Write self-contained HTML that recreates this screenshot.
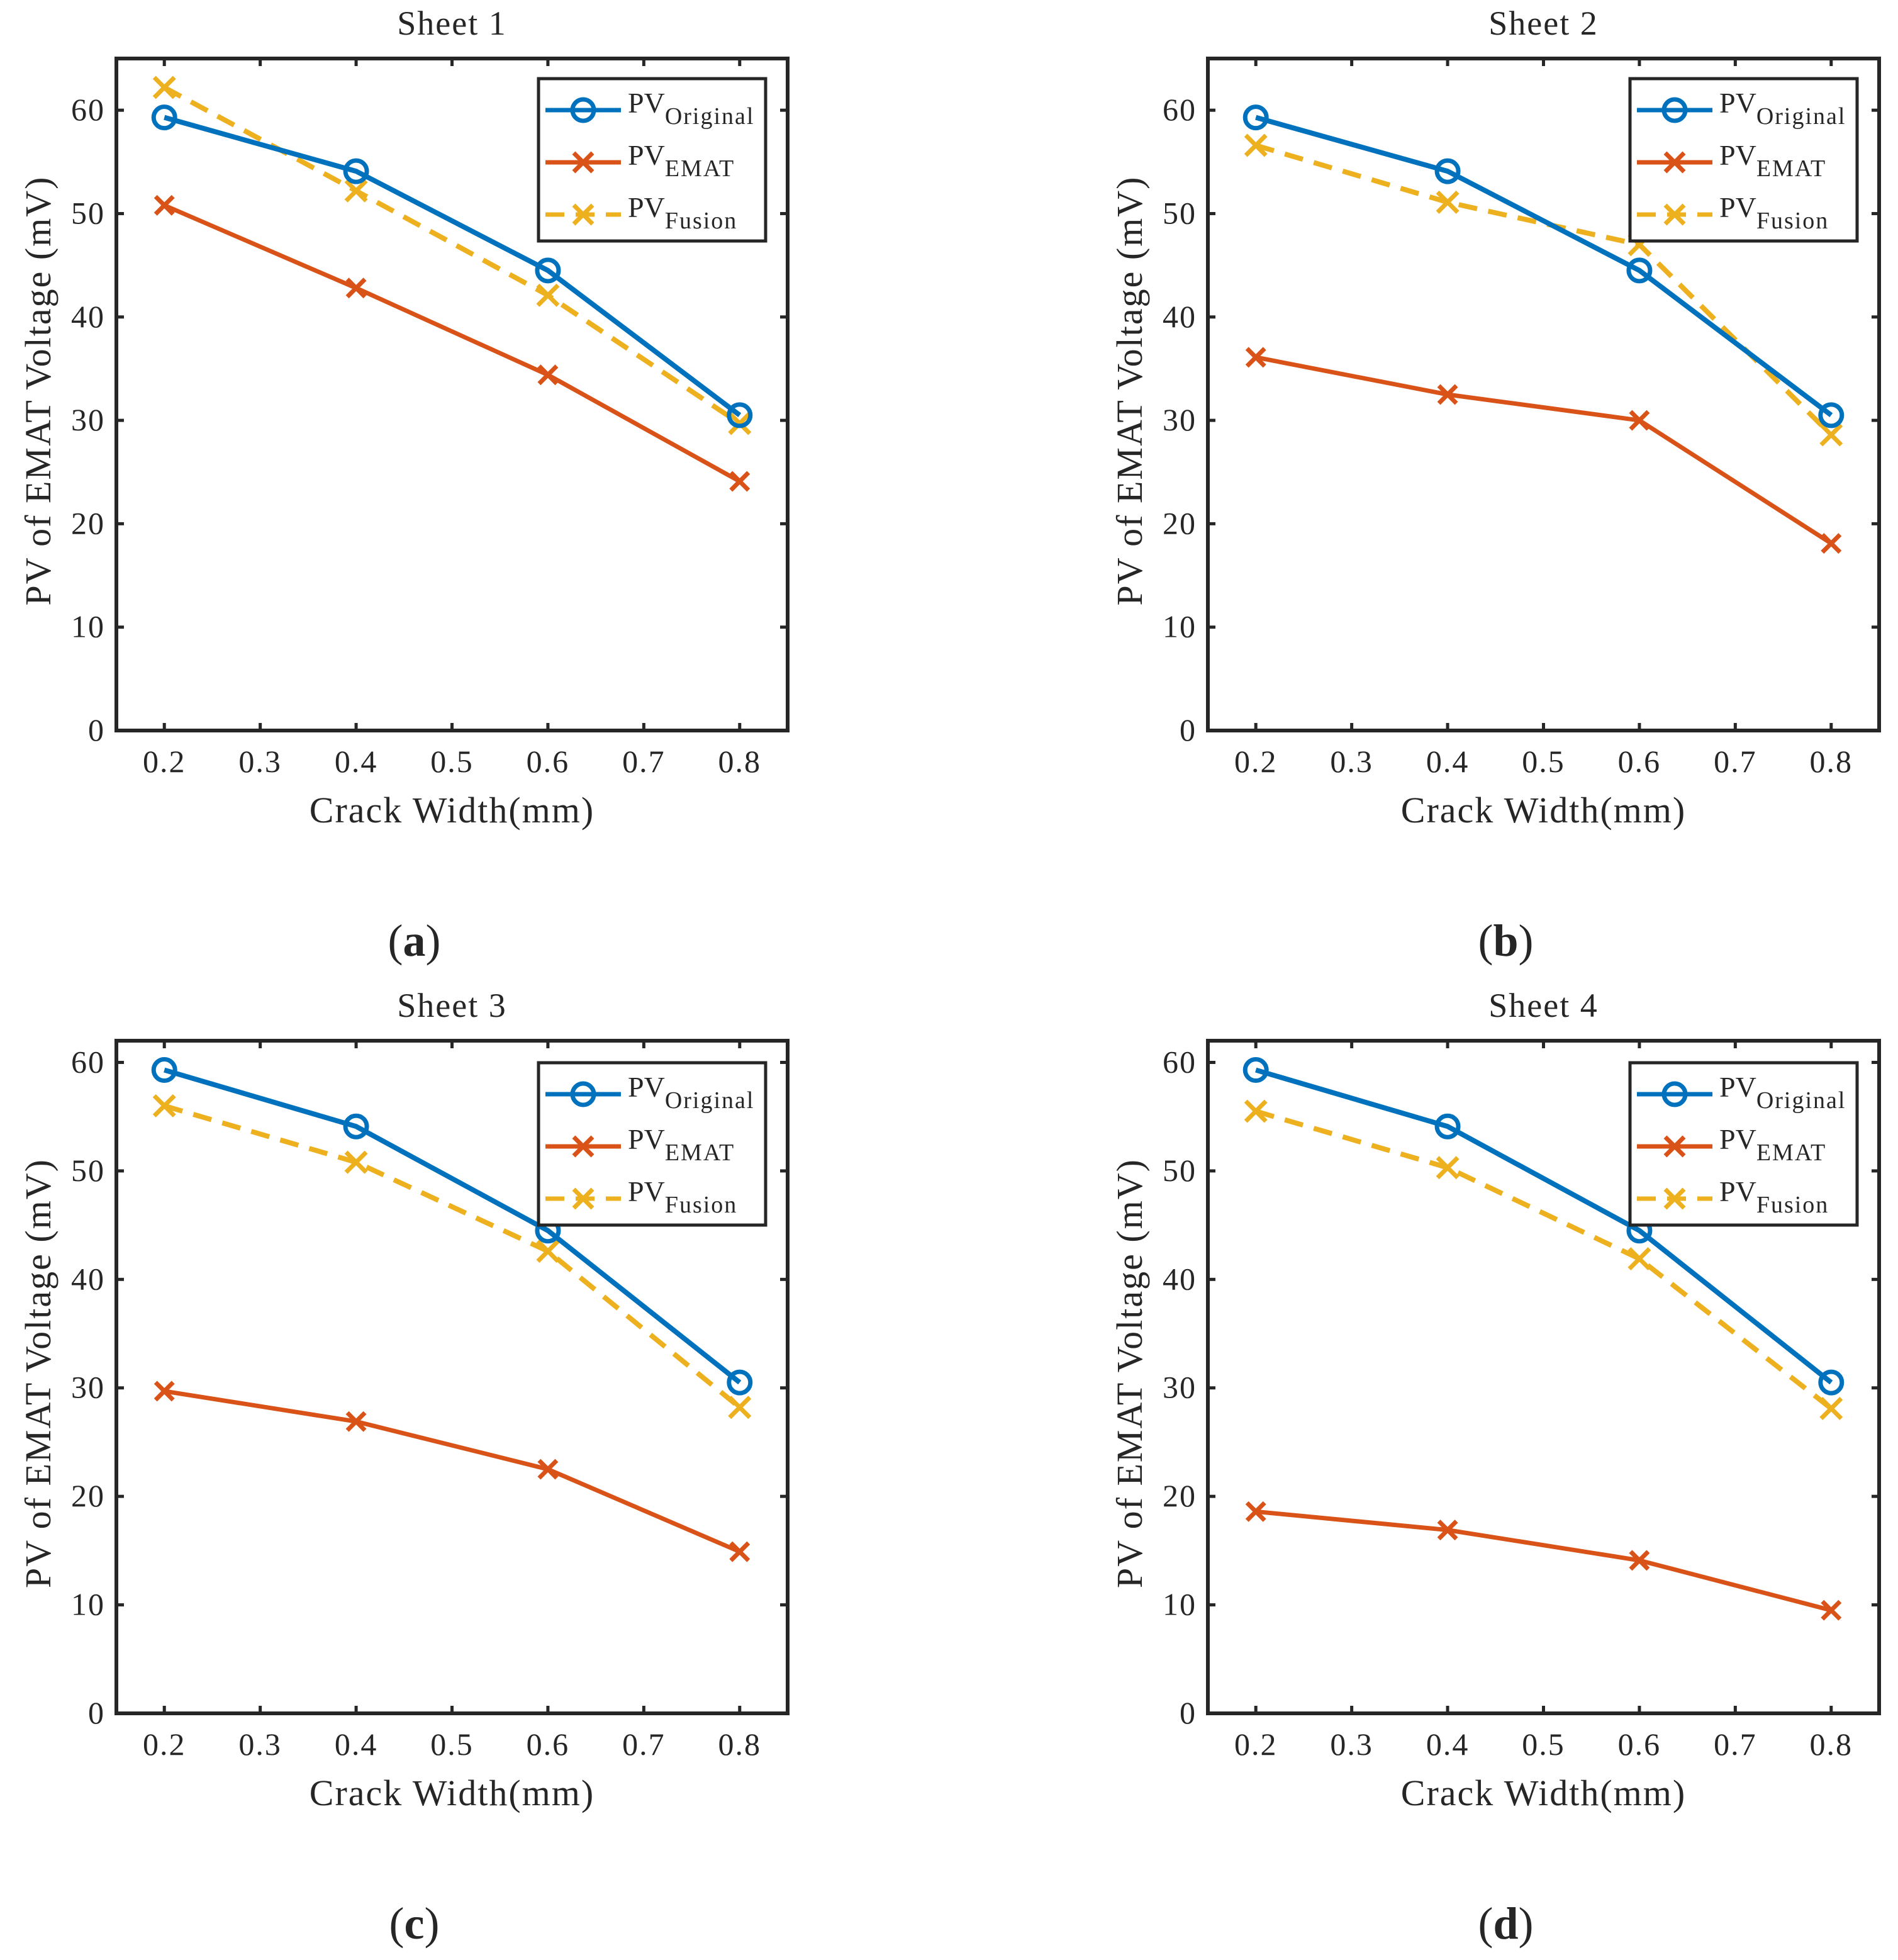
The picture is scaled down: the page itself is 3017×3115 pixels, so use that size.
<!DOCTYPE html>
<html><head><meta charset="utf-8"><style>
html,body{margin:0;padding:0;background:#fff;}
svg{display:block;}
text{font-family:"Liberation Serif",serif;fill:#262626;}
</style></head><body>
<svg id="fig" width="3017" height="3115" viewBox="0 0 3017 3115" xmlns="http://www.w3.org/2000/svg"></svg>
<script>
const categories = [0.2, 0.4, 0.6, 0.8];
const xTicks = [0.2, 0.3, 0.4, 0.5, 0.6, 0.7, 0.8];
const yTicks = [0, 10, 20, 30, 40, 50, 60];
const sheetTitles = ["Sheet 1", "Sheet 2", "Sheet 3", "Sheet 4"];
const panelLabels = ["a", "b", "c", "d"];
const yMax = [65, 65, 62, 62];
const origA = [59.3, 54.1, 44.5, 30.5];
const ematA = [50.8, 42.8, 34.4, 24.1];
const fusionA = [62.2, 52.2, 42.1, 29.7];
const origB = [59.3, 54.1, 44.5, 30.5];
const ematB = [36.1, 32.5, 30.0, 18.1];
const fusionB = [56.6, 51.1, 47.0, 28.6];
const origC = [59.3, 54.1, 44.5, 30.5];
const ematC = [29.7, 26.9, 22.5, 14.9];
const fusionC = [56.0, 50.8, 42.6, 28.2];
const origD = [59.3, 54.1, 44.5, 30.5];
const ematD = [18.6, 16.9, 14.1, 9.5];
const fusionD = [55.5, 50.3, 41.9, 28.1];
const seriesOrig = [origA, origB, origC, origD];
const seriesEmat = [ematA, ematB, ematC, ematD];
const seriesFusion = [fusionA, fusionB, fusionC, fusionD];

const NS = "http://www.w3.org/2000/svg";
const svg = document.getElementById("fig");
function mk(tag, attrs, parent) {
  const e = document.createElementNS(NS, tag);
  for (const k in attrs) e.setAttribute(k, attrs[k]);
  (parent || svg).appendChild(e);
  return e;
}
const BLUE = "#0072BD", RED = "#D95319", YEL = "#EDB120";

function drawX(g, x, y, s, color) {
  mk("path", {d: `M${x-s},${y-s}L${x+s},${y+s}M${x-s},${y+s}L${x+s},${y-s}`, stroke: color, "stroke-width": 7, fill: "none"}, g);
}
function drawO(g, x, y, color) {
  mk("circle", {cx: x, cy: y, r: 17, stroke: color, "stroke-width": 7, fill: "none"}, g);
}

for (let p = 0; p < 4; p++) {
  const dx = (p % 2) * 1735, dy = Math.floor(p / 2) * 1561;
  const L = 185 + dx, R = 1252 + dx, T = 93 + dy, B = (p < 2 ? 1161 : 1162) + dy;
  const ym = yMax[p];
  const xs = v => L + (v - 0.15) / 0.7 * (R - L);
  const ys = v => B - v / ym * (B - T);
  const g = mk("g", {});
  
  

  const title = mk("text", {x: (L + R) / 2, y: T - 38, "font-size": 54, "text-anchor": "middle", "letter-spacing": 2}, g);
  title.textContent = sheetTitles[p];
  
  

  const tg = mk("g", {stroke: "#262626", "stroke-width": 5}, g);
  
  
  xTicks.forEach(v => {
    const x = xs(v);
    mk("line", {x1: x, y1: B, x2: x, y2: B - 12}, tg);
    mk("line", {x1: x, y1: T, x2: x, y2: T + 12}, tg);
    const t = mk("text", {x: x, y: B + 66, "font-size": 50, "text-anchor": "middle", stroke: "none", "letter-spacing": 2}, g);
    t.textContent = v.toFixed(1);
    
    
  });
  yTicks.forEach(v => {
    const y = ys(v);
    mk("line", {x1: L, y1: y, x2: L + 12, y2: y}, tg);
    mk("line", {x1: R, y1: y, x2: R - 12, y2: y}, tg);
    const t = mk("text", {x: L - 18, y: y + 16, "font-size": 50, "text-anchor": "end", stroke: "none", "letter-spacing": 2}, g);
    t.textContent = v;
    
    
  });

  const pts = arr => arr.map((v, i) => xs(categories[i]) + "," + ys(v)).join(" ");
  const fl = mk("polyline", {points: pts(seriesFusion[p]), stroke: YEL, "stroke-width": 8, fill: "none", "stroke-dasharray": "30,18"}, g);
  
  
  seriesFusion[p].forEach((v, i) => drawX(g, xs(categories[i]), ys(v), 16, YEL));
  const el = mk("polyline", {points: pts(seriesEmat[p]), stroke: RED, "stroke-width": 7, fill: "none"}, g);
  
  
  seriesEmat[p].forEach((v, i) => drawX(g, xs(categories[i]), ys(v), 14, RED));
  const ol = mk("polyline", {points: pts(seriesOrig[p]), stroke: BLUE, "stroke-width": 8, fill: "none"}, g);
  
  
  seriesOrig[p].forEach((v, i) => drawO(g, xs(categories[i]), ys(v), BLUE));

  const fr = mk("rect", {x: L, y: T, width: R - L, height: B - T, fill: "none", stroke: "#262626", "stroke-width": 6}, g);
  
  

  const xl = mk("text", {x: (L + R) / 2, y: B + 146, "font-size": 58, "text-anchor": "middle", "letter-spacing": 2}, g);
  xl.textContent = "Crack Width(mm)";
  
  
  const yl = mk("text", {x: 0, y: 0, "font-size": 58, "text-anchor": "middle", "letter-spacing": 2, transform: `translate(${L - 105},${(T + B) / 2 - 6}) rotate(-90)`}, g);
  yl.textContent = "PV of EMAT Voltage (mV)";
  
  

  const lg = mk("g", {}, g);
  
  
  const LX = 856 + dx, LY = 125 + dy + (p < 2 ? 0 : 3);
  mk("rect", {x: LX, y: LY, width: 361, height: 258, fill: "#fff", stroke: "#262626", "stroke-width": 5}, lg);
  const entries = [["Original", BLUE, "o"], ["EMAT", RED, "x"], ["Fusion", YEL, "xd"]];
  entries.forEach((e, i) => {
    const cy = LY + 50 + i * 83;
    const ln = mk("line", {x1: LX + 11, y1: cy, x2: LX + 131, y2: cy, stroke: e[1], "stroke-width": 7}, lg);
    if (e[2] === "xd") ln.setAttribute("stroke-dasharray", "30,18");
    if (e[2] === "o") drawO(lg, LX + 71, cy, e[1]); else drawX(lg, LX + 71, cy, 15, e[1]);
    const t = mk("text", {x: LX + 142, y: cy + 4, "font-size": 46}, lg);
    
    
    const a = mk("tspan", {}, t); a.textContent = "PV";
    const s = mk("tspan", {dy: 18, "font-size": 38, "letter-spacing": 2}, t); s.textContent = e[0];
  });

  const pl = mk("text", {x: (L + R) / 2 - 60, y: B + 358, "font-size": 72, "text-anchor": "middle", fill: "#000"}, g);
  
  
  const p1 = mk("tspan", {}, pl); p1.textContent = "(";
  const p2 = mk("tspan", {"font-weight": "bold"}, pl); p2.textContent = panelLabels[p];
  const p3 = mk("tspan", {}, pl); p3.textContent = ")";
}
</script>
</body></html>
